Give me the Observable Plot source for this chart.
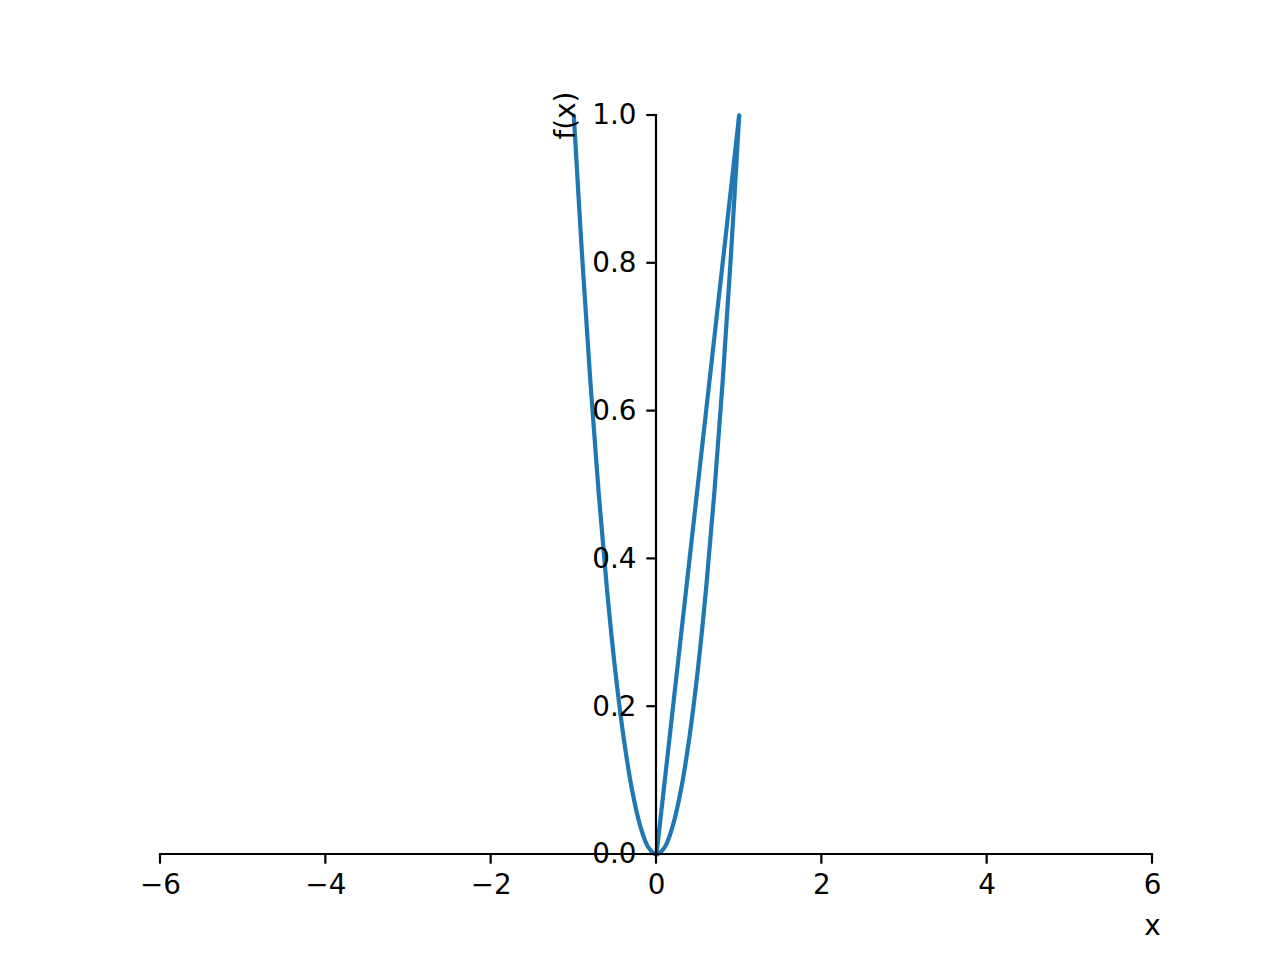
<!DOCTYPE html>
<html>
<head>
<meta charset="utf-8">
<script src="https://cdn.jsdelivr.net/npm/d3@7"></script>
<script src="https://cdn.jsdelivr.net/npm/@observablehq/plot@0.6"></script>
<style>
  html, body { margin: 0; padding: 0; background: #fff; }
  #chart { width: 1280px; height: 960px; }
</style>
</head>
<body>
<div id="chart"></div>
<script>
// Curve 1: parabola
const parabolaX = [-1, -0.9, -0.8, -0.7, -0.6, -0.5, -0.4, -0.3, -0.2, -0.1, 0, 0.1, 0.2, 0.3, 0.4, 0.5, 0.6, 0.7, 0.8, 0.9, 1];
const parabolaY = [1, 0.81, 0.64, 0.49, 0.36, 0.25, 0.16, 0.09, 0.04, 0.01, 0, 0.01, 0.04, 0.09, 0.16, 0.25, 0.36, 0.49, 0.64, 0.81, 1];
// Curve 2: straight line
const lineX = [0, 1];
const lineY = [0, 1];
// Ticks
const xTicks = [-6, -4, -2, 0, 2, 4, 6];
const yTicks = [0, 0.2, 0.4, 0.6, 0.8, 1.0];
const xTickLabels = ["\u22126", "\u22124", "\u22122", "0", "2", "4", "6"];
const yTickLabels = ["0.0", "0.2", "0.4", "0.6", "0.8", "1.0"];

const parabola = parabolaX.map((x, i) => ({x, y: parabolaY[i]}));
const line = lineX.map((x, i) => ({x, y: lineY[i]}));
const xt = xTicks.map((v, i) => ({v, label: xTickLabels[i]}));
const yt = yTicks.map((v, i) => ({v, label: yTickLabels[i]}));

const FONT = "DejaVu Sans";
const FS = 27.8;
const BLUE = "#1f77b4";

// custom mark that draws spines and ticks using Plot's scales
function spinesAndTicks(index, scales) {
  const g = d3.create("svg:g");
  const x = scales.x, y = scales.y;
  const sw = 2.2, tl = 9.7;
  g.append("line")
    .attr("x1", x(-6)).attr("x2", x(6))
    .attr("y1", y(0)).attr("y2", y(0))
    .attr("stroke", "black").attr("stroke-width", sw).attr("stroke-linecap", "square");
  g.append("line")
    .attr("x1", x(0)).attr("x2", x(0))
    .attr("y1", y(0)).attr("y2", y(1))
    .attr("stroke", "black").attr("stroke-width", sw).attr("stroke-linecap", "square");
  for (const t of xTicks) {
    g.append("line")
      .attr("x1", x(t)).attr("x2", x(t))
      .attr("y1", y(0)).attr("y2", y(0) + tl)
      .attr("stroke", "black").attr("stroke-width", sw);
  }
  for (const t of yTicks) {
    g.append("line")
      .attr("x1", x(0) - tl).attr("x2", x(0))
      .attr("y1", y(t)).attr("y2", y(t))
      .attr("stroke", "black").attr("stroke-width", sw);
  }
  return g.node();
}

const chart = Plot.plot({
  width: 1280,
  height: 960,
  marginLeft: 160,
  marginRight: 128,
  marginTop: 115,
  marginBottom: 106,
  x: {domain: [-6, 6], axis: null},
  y: {domain: [0, 1], axis: null},
  style: {fontFamily: FONT, background: "white", overflow: "visible"},
  marks: [
    Plot.line(parabola, {x: "x", y: "y", stroke: BLUE, strokeWidth: 4.2, curve: "catmull-rom"}),
    Plot.line(line, {x: "x", y: "y", stroke: BLUE, strokeWidth: 4.2}),
    spinesAndTicks,
    Plot.text(xt, {x: "v", y: 0, text: "label", dy: 20, lineAnchor: "top", fontSize: FS, fill: "black"}),
    Plot.text(yt, {x: 0, y: "v", text: "label", dx: -20, textAnchor: "end", fontSize: FS, fill: "black"}),
    Plot.text(["x"], {x: 6, y: 0, text: d => d, dy: 72, fontSize: FS, fill: "black"}),
    Plot.text(["f(x)"], {x: 0, y: 1, text: d => d, dx: -90, rotate: -90, fontSize: FS, fill: "black"})
  ]
});

document.getElementById("chart").appendChild(chart);
</script>
</body>
</html>
